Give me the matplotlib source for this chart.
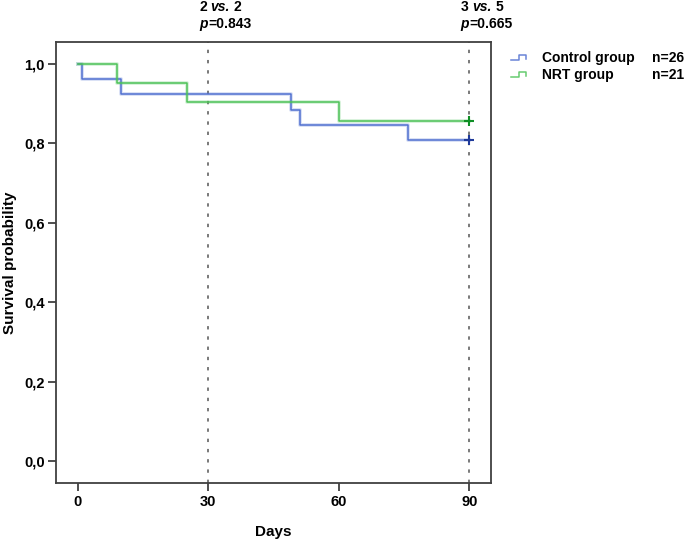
import matplotlib
matplotlib.use("Agg")
import matplotlib.pyplot as plt
import matplotlib.patheffects as pe
from matplotlib.lines import Line2D

plt.rcParams['font.family'] = ['Liberation Sans', 'DejaVu Sans']
plt.rcParams['font.weight'] = 'bold'
plt.rcParams['font.size'] = 10

# Data
control_days = [0, 1, 10, 49, 51, 76, 90]
control_surv = [1.0, 25/26, 24/26, 23/26, 22/26, 21/26, 21/26]
nrt_days = [0, 9, 25, 60, 90]
nrt_surv = [1.0, 20/21, 19/21, 18/21, 18/21]
censor_day = 90
group_names = ["Control group", "NRT group"]
group_n = ["n=26", "n=21"]
compare_days = [30, 90]
compare_counts = [("2", "2"), ("3", "5")]
compare_p = ["0.843", "0.665"]
xticks = [0, 30, 60, 90]
yticks = [0.0, 0.2, 0.4, 0.6, 0.8, 1.0]

blue = "#4f6fd0"
green = "#4cc257"
blue_dark = "#1f3a9a"
green_dark = "#0f8f25"

W, H = 685, 541
fig = plt.figure(figsize=(W/100, H/100), dpi=100)
ax = fig.add_axes([56/W, 1 - 483/H, (491-56)/W, (483-42)/H])

halo = lambda c: [pe.Stroke(linewidth=2.8, foreground=c, alpha=0.22), pe.Normal()]
ax.step(control_days, control_surv, where='post', color=blue, lw=1.1,
        path_effects=halo(blue), zorder=3)
ax.step(nrt_days, nrt_surv, where='post', color=green, lw=1.1,
        path_effects=halo(green), zorder=3)
ax.plot([censor_day], [control_surv[-1]], marker='+', ms=7, mew=1.5,
        color=blue_dark, zorder=4, ls='none')
ax.plot([censor_day], [nrt_surv[-1]], marker='+', ms=7, mew=1.5,
        color=green_dark, zorder=4, ls='none')

gap = 2.8  # points, width of a space
for d, (a, b), p in zip(compare_days, compare_counts, compare_p):
    ax.axvline(d, color='#555555', lw=1.1, ls=(0, (2.2, 4.5)), zorder=2)
    kw = dict(fontsize=10, fontweight='bold', annotation_clip=False)
    t1 = ax.annotate(a, xy=(d, 1), xycoords=('data', 'axes fraction'),
                     xytext=(-6.5, 25), textcoords='offset points',
                     ha='left', va='center', **kw)
    t2 = ax.annotate("vs.", xy=(1, 0), xycoords=t1, xytext=(gap, 0),
                     textcoords='offset points', ha='left', va='bottom',
                     style='italic', **kw)
    ax.annotate(b, xy=(1, 0), xycoords=t2, xytext=(gap, 0),
                textcoords='offset points', ha='left', va='bottom', **kw)
    t4 = ax.annotate("p", xy=(d, 1), xycoords=('data', 'axes fraction'),
                     xytext=(-6.5, 13), textcoords='offset points',
                     ha='left', va='center', style='italic', **kw)
    ax.annotate("=" + p, xy=(1, 0), xycoords=t4, xytext=(0.3, 0),
                textcoords='offset points', ha='left', va='bottom', **kw)

ax.set_xlim(-5, 95)
ax.set_ylim(-0.055, 1.055)
ax.set_xticks(xticks)
ax.set_xticklabels([str(x) for x in xticks])
ax.set_yticks(yticks)
ax.set_yticklabels([f"{y:.1f}".replace('.', ',') for y in yticks])
ax.tick_params(direction='out', length=6, width=1.3, color='#404040', pad=2, labelsize=10.5)
ax.tick_params(axis='x', pad=3)
for s in ax.spines.values():
    s.set_color('#404040')
    s.set_linewidth(1.3)
ax.set_xlabel("Days", fontsize=11, fontweight='bold', labelpad=11)
ax.set_ylabel("Survival probability", fontsize=11, fontweight='bold', labelpad=5)

# Legend (outside axes, right)
rows_y = [58, 75]
for name, n, c, y in zip(group_names, group_n, [blue, green], rows_y):
    lo, hi = y + 2, y - 3
    xs = [511, 519, 519, 526, 526]
    ys = [lo, lo, hi, hi, lo - 1]
    fig.add_artist(Line2D([x/W for x in xs], [1 - v/H for v in ys],
                          transform=fig.transFigure, color=c, lw=1.1, alpha=0.85))
    fig.text(542/W, 1 - y/H, name, ha='left', va='center', fontsize=10, fontweight='bold')
    fig.text(652/W, 1 - y/H, n, ha='left', va='center', fontsize=10, fontweight='bold')

fig.savefig("out.png", dpi=100)
